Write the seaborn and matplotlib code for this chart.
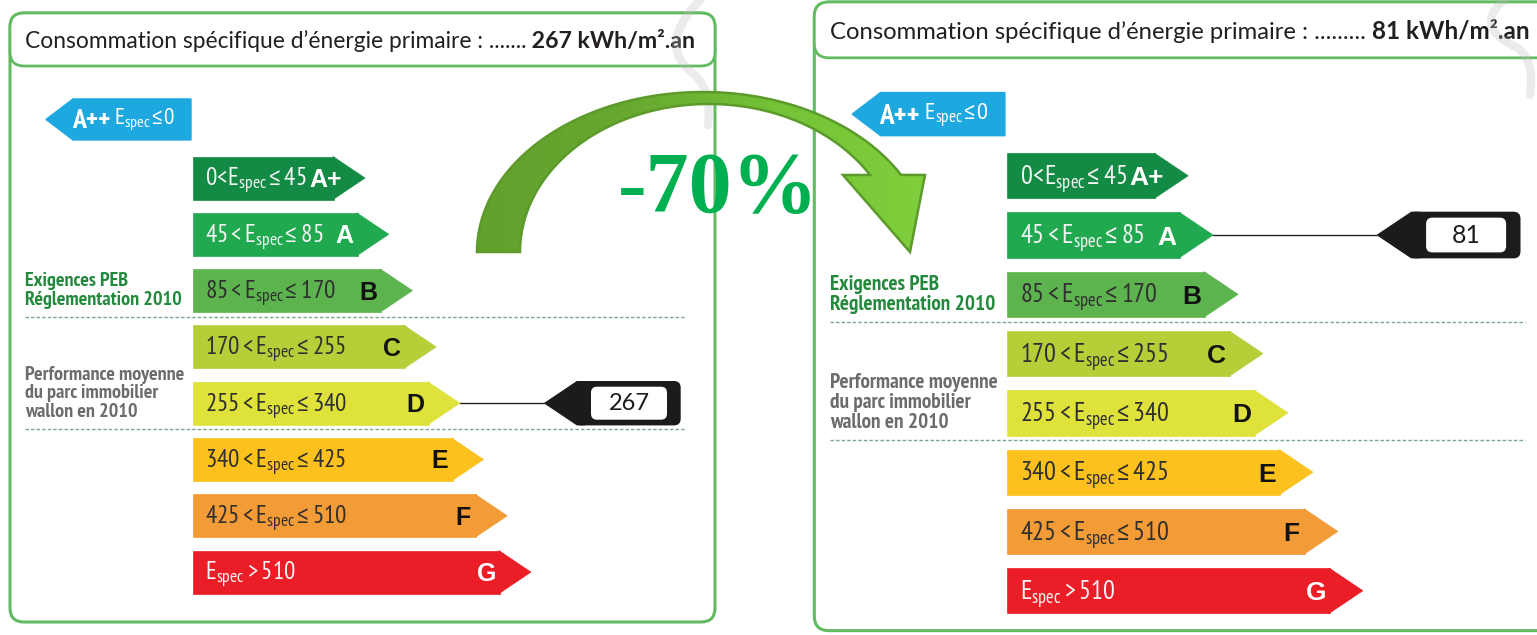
import numpy as np
import matplotlib
matplotlib.use("Agg")
import matplotlib.pyplot as plt
import seaborn as sns
from matplotlib import font_manager
from matplotlib.colors import LinearSegmentedColormap
from matplotlib.patches import FancyBboxPatch, PathPatch, Polygon
from matplotlib.path import Path

# energy classes (PEB Wallonie) with E_spec bounds in kWh/m².an
classes = ["A+", "A", "B", "C", "D", "E", "F", "G"]
lower = [0, 45, 85, 170, 255, 340, 425, 510]
upper = [45, 85, 170, 255, 340, 425, 510, None]
class_colors = ["#148b45", "#21a950", "#5db44f", "#b7ce39",
                "#dee23a", "#fcc11c", "#f39b36", "#eb1d26"]

# primary energy consumption: before / after
consumption = [267, 81]
header_dots = [7, 9]

header = "Consommation spécifique d’énergie primaire : "
side_peb = "Exigences PEB\nRéglementation 2010"
side_parc = "Performance moyenne\ndu parc immobilier\nwallon en 2010"

sns.set_theme(style="white")
names = {f.name for f in font_manager.fontManager.ttflist}
COND = next(f for f in ["PT Sans Narrow", "Fira Sans Extra Condensed",
                        "Roboto Condensed", "IBM Plex Sans Condensed", "DejaVu Sans"]
            if f in names)
plt.rcParams["font.family"] = ["Lato", "DejaVu Sans"]
plt.rcParams["mathtext.fontset"] = "custom"
plt.rcParams["mathtext.rm"] = COND
plt.rcParams["mathtext.it"] = COND
plt.rcParams["mathtext.bf"] = COND + ":bold"
plt.rcParams["mathtext.sf"] = "IBM Plex Sans Condensed"

GREEN = "#62bb62"
W, H = 1537, 635
fig = plt.figure(figsize=(W / 100, H / 100), dpi=100)
renderer = fig.canvas.get_renderer()


def fit_size(text, target_px, cap, **kw):
    probe = fig.text(0, 0, text, fontsize=20, **kw)
    w = probe.get_window_extent(renderer=renderer).width
    probe.remove()
    return min(cap, 20 * target_px / w)


# panel layout in local units (origin = left edge of the bars)
XL, XR, YT, YB = -190, 530, -5, 620
ROW0, ROW_STEP, BAR_H = 165, 56.3, 43
BODY0, BODY_STEP, TIP = 141, 23.7, 31
MARK_X = 352

LEQ = r"\mathsf{\leq}"


def range_label(i):
    lo, hi = lower[i], upper[i]
    e = r"\mathrm{E}_{\mathrm{spec}}"
    if hi is None:
        return rf"${e} > {lo}$"
    if i == 0:
        return rf"${lo}\!<\!{e}\!{LEQ}{hi}$"
    return rf"${lo} < {e}\!{LEQ} {hi}$"


FS_RANGE = fit_size(range_label(4), 142, 19)
FS_SIDE = fit_size("Réglementation 2010", 160, 14.5, family=COND, weight="bold")
FS_APP = fit_size("A++", 41, 20, family=COND, weight="bold")
FS_HEAD = fit_size("Consommation spécifique d’énergie primaire :", 457, 17)
FS_HEAD_B = fit_size("267 kWh/m².an", 163, 17, weight="bold")


def draw_panel(value, ox, oy, s, frame_h, dots):
    ax = fig.add_axes([(ox + XL * s) / W, 1 - (oy + YB * s) / H,
                       (XR - XL) * s / W, (YB - YT) * s / H])
    n = len(classes)
    rows = ROW0 + ROW_STEP * np.arange(n)
    lengths = BODY0 + BODY_STEP * np.arange(n)

    sns.barplot(x=lengths, y=rows, hue=classes,
                palette=dict(zip(classes, class_colors)), orient="h",
                native_scale=True, width=BAR_H / ROW_STEP, saturation=1,
                dodge=False, errorbar=None, legend=False, ax=ax)
    for p in list(ax.patches):
        fc = p.get_facecolor()
        p.set_edgecolor(fc)
        p.set_linewidth(0.5)
        x1, y0, h = p.get_x() + p.get_width(), p.get_y(), p.get_height()
        ax.add_patch(Polygon([(x1 - 1, y0), (x1 + TIP, y0 + h / 2), (x1 - 1, y0 + h)],
                             closed=True, fc=fc, ec=fc, lw=0.5))
    ax.set_xlim(XL, XR)
    ax.set_ylim(YB, YT)
    ax.axis("off")

    # frame + header
    ax.add_patch(FancyBboxPatch((-183, 0), 705, frame_h,
                                boxstyle="round,pad=0,rounding_size=14",
                                fc="none", ec=GREEN, lw=2.2, zorder=0.5))
    ax.add_patch(FancyBboxPatch((-183, 0), 705, 53,
                                boxstyle="round,pad=0,rounding_size=14",
                                fc="white", ec=GREEN, lw=2, zorder=1))
    t = ax.text(-168, 35, header + "." * dots, fontsize=FS_HEAD * s,
                color="#231f20", va="baseline", ha="left", zorder=2)
    ax.annotate(f" {value} kWh/m².an", xy=(1, 0), xycoords=t, va="bottom",
                ha="left", fontsize=FS_HEAD_B * s, weight="bold",
                color="#231f20", zorder=2)

    # A++ badge
    yA = ROW0 - 1.04 * ROW_STEP
    ax.add_patch(Polygon([(-147, yA), (-120, yA - 20.5), (-2, yA - 20.5),
                          (-2, yA + 20.5), (-120, yA + 20.5)],
                         closed=True, fc="#1ea8e0", ec="#1ea8e0"))
    ta = ax.text(-121, yA + 9, "A++", family=COND, weight="bold",
                 fontsize=FS_APP * s, color="white", va="baseline")
    ax.annotate(rf"$\;\mathrm{{E}}_{{\mathrm{{spec}}}}\!{LEQ}\!0$", xy=(1, 0),
                xycoords=ta, va="bottom", ha="left",
                fontsize=FS_RANGE * 0.92 * s, color="white")

    # labels inside the bars
    for i, (c, y, L) in enumerate(zip(classes, rows, lengths)):
        light = c in ("A+", "A", "G")
        ax.text(12, y + 8.5, range_label(i), fontsize=FS_RANGE * s,
                color="#f4f4f4" if light else "#2f2f2f",
                va="baseline", ha="left")
        ax.text(L - (8 if i == 0 else 13), y + 9, c, family="Liberation Sans",
                weight="bold", fontsize=18 * s,
                color="white" if light else "#111111",
                va="baseline", ha="center")

    # separators and side notes
    for k in (2, 4):
        yd = (rows[k] + rows[k + 1]) / 2 - 2
        ax.plot([-168, 492], [yd, yd], color="#7aa596", lw=1, ls=(0, (2.5, 1.5)))
    ax.text(-168, rows[2], side_peb, family=COND, weight="bold",
            fontsize=FS_SIDE * s, color="#23893d", va="center", ha="left",
            linespacing=1.05)
    ax.text(-168, rows[4] - 10, side_parc, family=COND, weight="bold",
            fontsize=FS_SIDE * s, color="#6b6c6e", va="center", ha="left",
            linespacing=1.05)

    # value marker
    idx = np.searchsorted(lower, value, side="left") - 1
    yc = rows[idx]
    ax.plot([lengths[idx] + TIP, MARK_X], [yc, yc], color="#222222", lw=1)
    hb = BAR_H / 2
    ax.add_patch(Polygon([(MARK_X, yc), (MARK_X + 32, yc - hb), (MARK_X + 40, yc - hb),
                          (MARK_X + 40, yc + hb), (MARK_X + 32, yc + hb)],
                         closed=True, fc="#1b1b1b", ec="#1b1b1b"))
    ax.add_patch(FancyBboxPatch((MARK_X + 30, yc - hb), 105, BAR_H,
                                boxstyle="round,pad=0,rounding_size=6",
                                fc="#1b1b1b", ec="#1b1b1b"))
    ax.add_patch(FancyBboxPatch((MARK_X + 46, yc - 16.5), 76, 33,
                                boxstyle="round,pad=0,rounding_size=6",
                                fc="white", ec="none"))
    ax.text(MARK_X + 84, yc, str(value), fontsize=17 * s, color="#1b1b1b",
            va="center", ha="center")
    return ax


draw_panel(consumption[0], 193, 13, 1.0, 609, header_dots[0])
draw_panel(consumption[1], 1007, 2, 1.053, 597, header_dots[1])

# overlay: watermark, curved arrow and reduction label
ax0 = fig.add_axes([0, 0, 1, 1], zorder=10)
ax0.patch.set_visible(False)

C4, C3 = Path.CURVE4, Path.CURVE3
for pts in ([(702, -2), (670, 30), (668, 55), (695, 75), (712, 92), (708, 125)],
            [(1506, -2), (1480, 20), (1490, 35), (1518, 48), (1535, 62), (1530, 95)]):
    wm = Path(pts, [Path.MOVETO, C4, C4, C4, C3, C3])
    ax0.add_patch(PathPatch(wm, fc="none", ec="#bdbdbd", lw=6, alpha=0.3,
                            capstyle="round", zorder=1))

th_o = np.linspace(np.pi, np.arccos((901 - 703) / 226), 90)
outer = np.c_[703 + 226 * np.cos(th_o), 252 - 160 * np.sin(th_o)]
th_i = np.linspace(np.arccos((870 - 708.8) / 188.8), np.pi, 90)
inner = np.c_[708.8 + 188.8 * np.cos(th_i), 252 - 148 * np.sin(th_i)]
head = np.array([[925, 175], [910, 252], [843, 175]])
verts = np.vstack([outer, head, inner, outer[:1]])
arrow = PathPatch(Path(verts, closed=True), fc="none", ec="#5b9a2b",
                  lw=1.8, zorder=3)
ax0.add_patch(arrow)
cmap = LinearSegmentedColormap.from_list(
    "arrow", ["#62a02c", "#67a82f", "#74c236", "#80d03c"])
im = ax0.imshow(np.linspace(0, 1, 256)[None, :], extent=[470, 930, 255, 88],
                cmap=cmap, aspect="auto", zorder=2)
im.set_clip_path(arrow)

drop = round(100 * (1 - consumption[1] / consumption[0]))
ax0.text(718, 192, f"-{drop}%", family="Liberation Serif", weight="bold",
         fontsize=62, color="#00b050", ha="center", va="center", zorder=4)

ax0.set_xlim(0, W)
ax0.set_ylim(H, 0)
ax0.axis("off")

fig.savefig("out.png", dpi=100, facecolor="white")
